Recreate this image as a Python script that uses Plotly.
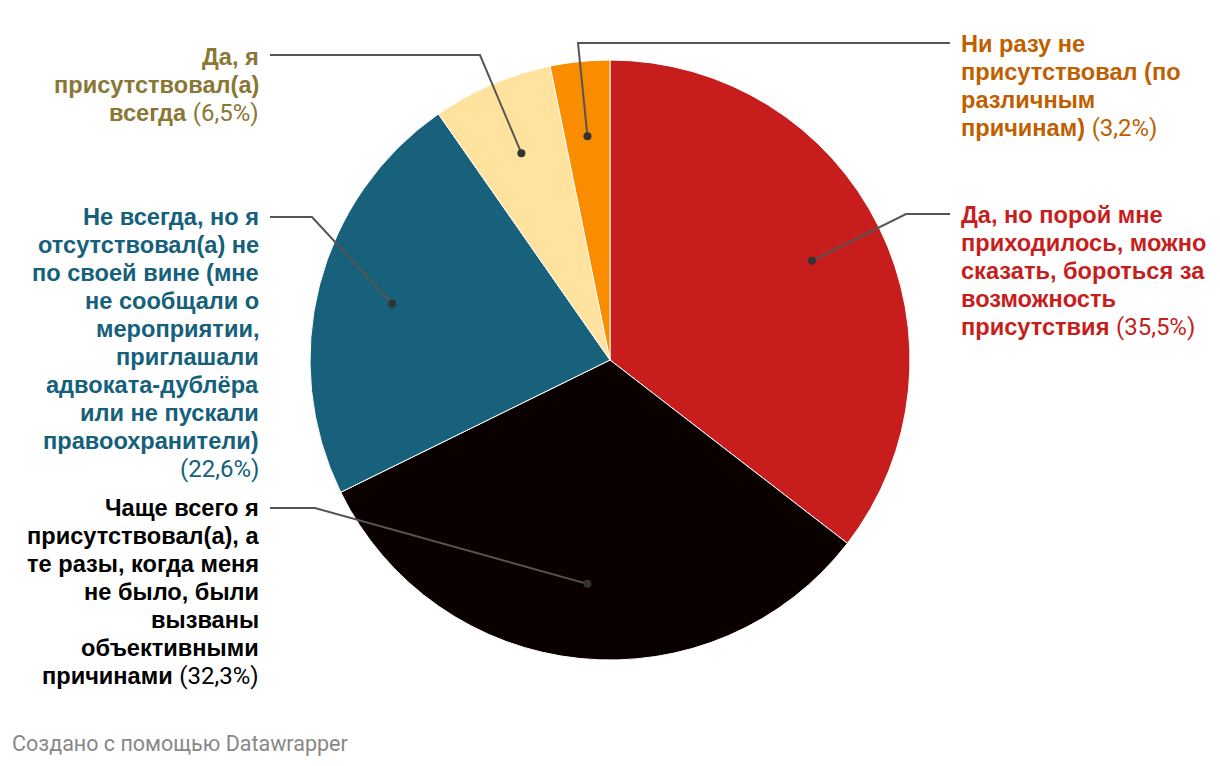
import math
import plotly.graph_objects as go

# ---- data ----
categories = [
    "Да, но порой мне приходилось, можно сказать, бороться за возможность присутствия",
    "Чаще всего я присутствовал(а), а те разы, когда меня не было, были вызваны объективными причинами",
    "Не всегда, но я отсутствовал(а) не по своей вине (мне не сообщали о мероприятии, приглашали адвоката-дублёра или не пускали правоохранители)",
    "Да, я присутствовал(а) всегда",
    "Ни разу не присутствовал (по различным причинам)",
]
values = [35.5, 32.3, 22.6, 6.5, 3.2]
pct_labels = ["35,5%", "32,3%", "22,6%", "6,5%", "3,2%"]
label_lines = [
    ["Да, но порой мне", "приходилось, можно", "сказать, бороться за", "возможность", "присутствия"],
    ["Чаще всего я", "присутствовал(а), а", "те разы, когда меня", "не было, были", "вызваны", "объективными", "причинами"],
    ["Не всегда, но я", "отсутствовал(а) не", "по своей вине (мне", "не сообщали о", "мероприятии,", "приглашали", "адвоката-дублёра", "или не пускали", "правоохранители)", ""],
    ["Да, я", "присутствовал(а)", "всегда"],
    ["Ни разу не", "присутствовал (по", "различным", "причинам)"],
]

slice_colors = ["#c71e1d", "#0b0000", "#18617b", "#fee29e", "#fa8c00"]
text_colors = ["#c71e1d", "#000000", "#15607a", "#8a7734", "#c05f00"]

W, H = 1220, 766
CX, CY, R = 610, 360, 300

# label layout: (side, text x, first-line center y, leader points from label side)
label_layout = [
    ("right", 960, 215, [(950, 214), (906, 214)]),
    ("left", 260, 508, [(270, 508), (315, 508)]),
    ("left", 260, 217, [(270, 217), (312, 217)]),
    ("left", 260, 57, [(270, 55), (480, 55)]),
    ("right", 960, 44, [(950, 43), (578, 43)]),
]

fig = go.Figure()
fig.add_trace(go.Pie(
    labels=categories, values=values, sort=False, direction="clockwise", rotation=0,
    marker=dict(colors=slice_colors, line=dict(color="white", width=1)),
    textinfo="none", hoverinfo="label+value", showlegend=False,
    domain=dict(x=[(CX - R) / W, (CX + R) / W], y=[1 - (CY + R) / H, 1 - (CY - R) / H]),
))
# invisible cartesian trace so the pixel axes exist
fig.add_trace(go.Scatter(x=[0, W], y=[0, H], mode="markers",
                         marker=dict(opacity=0), hoverinfo="skip", showlegend=False))

total = sum(values)
cum = 0
annotations = []
shapes = []
LH = 28
FS = 23.6
PFS = 24
DR = 4
for i, v in enumerate(values):
    mid = (cum + v / 2) / total * 2 * math.pi
    cum += v
    dx = CX + 0.75 * R * math.sin(mid)
    dy = CY - 0.75 * R * math.cos(mid)
    side, tx, ty, pts = label_layout[i]
    path_pts = pts + [(dx, dy)]
    path = "M " + " L ".join(f"{x},{y}" for x, y in path_pts)
    shapes.append(dict(type="path", path=path, xref="x", yref="y",
                       line=dict(color="#555555", width=2)))
    shapes.append(dict(type="circle", xref="x", yref="y",
                       x0=dx - DR, x1=dx + DR, y0=dy - DR, y1=dy + DR,
                       fillcolor="#333333", line=dict(width=0)))
    lines = list(label_lines[i])
    pct = f"<span style='font-family:Roboto;font-size:{PFS}px'>({pct_labels[i]})</span>"
    texts = []
    for k, l in enumerate(lines):
        if l == "":
            texts.append(pct)
        elif k == len(lines) - 1:
            texts.append(f"<b>{l}</b> " + pct)
        else:
            texts.append(f"<b>{l}</b>")
    for k, t in enumerate(texts):
        annotations.append(dict(
            x=tx, y=ty + k * LH, xref="x", yref="y", text=t, showarrow=False,
            xanchor="left" if side == "right" else "right", yanchor="middle",
            align="left" if side == "right" else "right",
            font=dict(family="Liberation Sans", size=FS, color=text_colors[i]),
            borderpad=0,
        ))

annotations.append(dict(
    x=10, y=743, xref="x", yref="y", text="Создано с помощью Datawrapper",
    showarrow=False, xanchor="left", yanchor="middle",
    font=dict(family="Roboto", size=21.5, color="#888888"),
))

fig.update_layout(
    width=W, height=H, margin=dict(l=0, r=0, t=0, b=0),
    paper_bgcolor="white", plot_bgcolor="rgba(0,0,0,0)",
    xaxis=dict(range=[0, W], visible=False, fixedrange=True),
    yaxis=dict(range=[H, 0], visible=False, fixedrange=True),
    shapes=shapes, annotations=annotations,
)
fig.write_html("out.html")
